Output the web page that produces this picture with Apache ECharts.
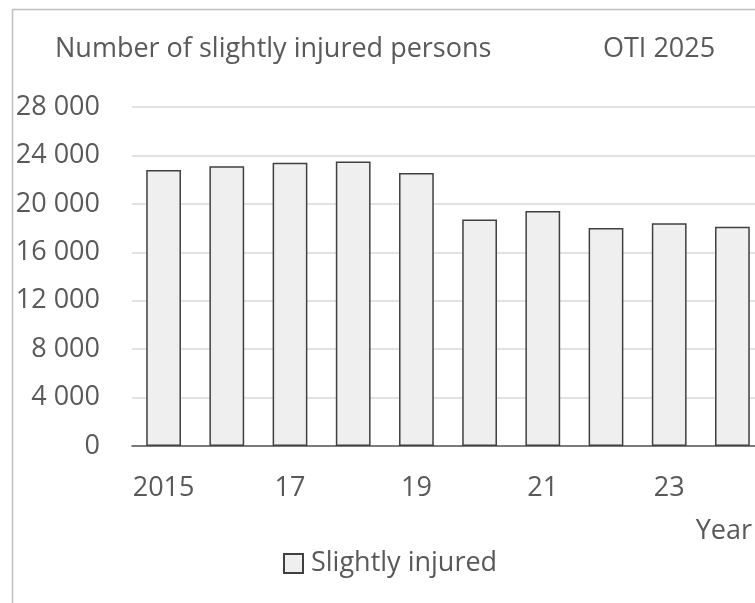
<!DOCTYPE html>
<html>
<head>
<meta charset="utf-8">
<script src="https://cdn.jsdelivr.net/npm/echarts@6/dist/echarts.min.js"></script>
<style>
html,body{margin:0;padding:0;background:#fff}
#main{width:755px;height:603px}
</style>
</head>
<body>
<div id="main"></div>
<script>
// data
const years = ['2015','16','17','18','19','20','21','22','23','24']
const slightlyInjured = [22800, 23100, 23400, 23500, 22550, 18700, 19400, 18000, 18400, 18100]
const yTicks = [0, 4000, 8000, 12000, 16000, 20000, 24000, 28000]

const font = '"Open Sans", "Noto Sans", sans-serif'
const grey = '#595959'

function fmt(v){
  return String(v).replace(/\B(?=(\d{3})+(?!\d))/g, ' ')
}

const chart = echarts.init(document.getElementById('main'), null, {renderer:'canvas'})
chart.setOption({
  animation:false,
  backgroundColor:'#fff',
  textStyle:{fontFamily:font},
  graphic:[{
    type:'rect',
    left:10, top:7,
    shape:{width:900, height:800},
    style:{fill:'none', stroke:'#bfbfbf', lineWidth:1.5},
    silent:true
  }],
  title:[
    {text:'Number of slightly injured persons', left:50, top:31,
      textStyle:{fontFamily:font, fontSize:27, fontWeight:'normal', color:grey}},
    {text:'OTI 2025', left:598, top:31,
      textStyle:{fontFamily:font, fontSize:27, fontWeight:'normal', color:grey}}
  ],
  legend:{
    left:278, top:545,
    itemWidth:19, itemHeight:19, itemGap:8,
    icon:'rect',
    textStyle:{fontFamily:font, fontSize:27, color:grey, padding:[0,0,0,3]},
    data:['Slightly injured']
  },
  grid:{left:132, top:107, right:-9, height:339, outerBoundsMode:'none'},
  xAxis:{
    type:'category',
    data:years,
    name:'Year',
    nameLocation:'end',
    nameGap:-12,
    nameTextStyle:{fontFamily:font, fontSize:27, color:grey, align:'right', verticalAlign:'top', padding:[72,0,0,0]},
    axisLine:{lineStyle:{color:grey, width:1.5}},
    axisTick:{show:false},
    axisLabel:{interval:1, margin:29, fontFamily:font, fontSize:27, color:grey}
  },
  yAxis:{
    type:'value',
    min:yTicks[0], max:yTicks[yTicks.length-1], interval:4000,
    axisLine:{show:false},
    axisTick:{show:false},
    splitLine:{lineStyle:{color:'#d9d9d9', width:1.5}},
    axisLabel:{margin:32, fontFamily:font, fontSize:27, color:grey, formatter:fmt}
  },
  series:[{
    name:'Slightly injured',
    type:'bar',
    data:slightlyInjured,
    barWidth:'55%',
    itemStyle:{color:'#eeefee', borderColor:'#404040', borderWidth:1.5}
  }]
})
</script>
</body>
</html>
